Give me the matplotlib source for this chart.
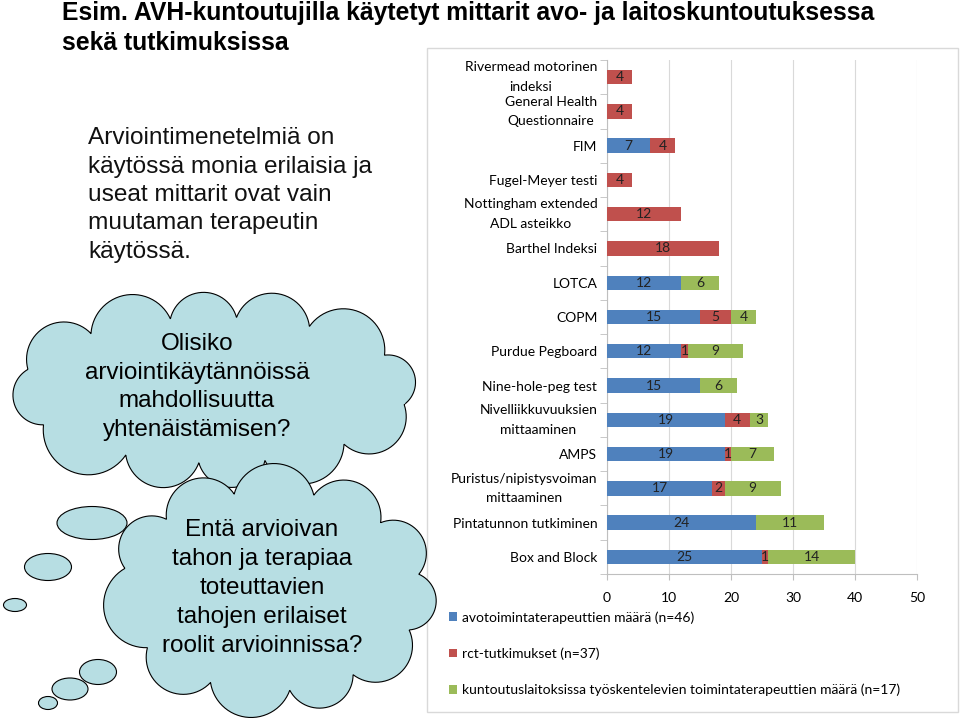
import numpy as np
import matplotlib
matplotlib.use("Agg")
import matplotlib.pyplot as plt
from matplotlib.patches import Polygon, Ellipse, Rectangle

# --- chart data ---
categories = ["Rivermead motorinen\nindeksi", "General Health\nQuestionnaire", "FIM",
              "Fugel-Meyer testi", "Nottingham extended\nADL asteikko", "Barthel Indeksi",
              "LOTCA", "COPM", "Purdue Pegboard", "Nine-hole-peg test",
              "Nivelliikkuvuuksien\nmittaaminen", "AMPS", "Puristus/nipistysvoiman\nmittaaminen",
              "Pintatunnon tutkiminen", "Box and Block"]
avo = [0, 0, 7, 0, 0, 0, 12, 15, 12, 15, 19, 19, 17, 24, 25]
rct = [4, 4, 4, 4, 12, 18, 0, 5, 1, 0, 4, 1, 2, 0, 1]
laitos = [0, 0, 0, 0, 0, 0, 6, 4, 9, 6, 3, 7, 9, 11, 14]
series_names = ["avotoimintaterapeuttien määrä (n=46)", "rct-tutkimukset (n=37)",
                "kuntoutuslaitoksissa työskentelevien toimintaterapeuttien määrä (n=17)"]
series_colors = ["#4F81BD", "#C0504D", "#9BBB59"]
xticks = [0, 10, 20, 30, 40, 50]

title = "Esim. AVH-kuntoutujilla käytetyt mittarit avo- ja laitoskuntoutuksessa\nsekä tutkimuksissa"
body = "Arviointimenetelmiä on\nkäytössä monia erilaisia ja\nuseat mittarit ovat vain\nmuutaman terapeutin\nkäytössä."
cloud1_text = "Olisiko\narviointikäytännöissä\nmahdollisuutta\nyhtenäistämisen?"
cloud2_text = "Entä arvioivan\ntahon ja terapiaa\ntoteuttavien\ntahojen erilaiset\nroolit arvioinnissa?"

CHART_FONT = ["Lato", "DejaVu Sans"]
SLIDE_FONT = ["Liberation Sans", "DejaVu Sans"]
CLOUD_FC = "#B7DEE3"
FS = 10

W, H = 960, 720
fig = plt.figure(figsize=(W / 100, H / 100), dpi=100)
fig.patch.set_facecolor("white")

# chart axes placed in pixel terms
ax = fig.add_axes([607 / W, 1 - 574 / H, 310 / W, 514 / H])
y = np.arange(len(categories))
left = np.zeros(len(categories))
bars = []
for vals, col in zip([avo, rct, laitos], series_colors):
    vals = np.array(vals, dtype=float)
    b = ax.barh(y, vals, left=left, height=0.42, color=col, zorder=3)
    for rect, v in zip(b, vals):
        if v > 0:
            ax.text(rect.get_x() + rect.get_width() / 2, rect.get_y() + rect.get_height() / 2,
                    f"{int(v)}", ha="center", va="center", fontsize=FS, color="#222222",
                    family=CHART_FONT, zorder=4)
    bars.append(b)
    left += vals

ax.set_xlim(0, 50)
ax.set_ylim(len(categories) - 0.5, -0.5)
ax.set_xticks(xticks)
ax.set_xticklabels([str(t) for t in xticks], family=CHART_FONT, fontsize=FS)
ax.set_yticks(y)
ax.set_yticklabels(categories, family=CHART_FONT, fontsize=FS)
for lab in ax.get_yticklabels():
    lab.set_multialignment("center")
    lab.set_linespacing(1.75)
    if "\n" in lab.get_text():
        lab.set_verticalalignment("center")
ax.set_yticks(np.arange(-0.5, len(categories), 1), minor=True)
ax.tick_params(axis="y", which="major", length=0, pad=7)
ax.tick_params(axis="y", which="minor", length=5, color="#BFBFBF")
ax.tick_params(axis="x", length=4, color="#BFBFBF", pad=9)
ax.grid(axis="x", color="#D9D9D9", lw=0.8, zorder=0)
for s in ("top", "right"):
    ax.spines[s].set_visible(False)
for s in ("left", "bottom"):
    ax.spines[s].set_color("#BFBFBF")

ax.legend(bars, series_names, loc="upper left", bbox_to_anchor=(449 / W, 1 - 611 / H),
          bbox_transform=fig.transFigure, frameon=False, prop={"family": CHART_FONT, "size": FS},
          handlelength=0.55, handleheight=0.55, handletextpad=0.35, labelspacing=1.72,
          borderaxespad=0, borderpad=0)

# overlay for slide elements, pixel coordinates with y downwards
ov = fig.add_axes([0, 0, 1, 1], zorder=5)
ov.set_xlim(0, W)
ov.set_ylim(H, 0)
ov.axis("off")
ov.patch.set_alpha(0)

ov.add_patch(Rectangle((427, 48), 531, 664, fill=False, ec="#D9D9D9", lw=1, zorder=1))


def cloud(cx, cy, rx, ry, weights, start=0.0, depth=0.25):
    # bump endpoints spaced along the ellipse perimeter by the given weights
    t = np.linspace(0, 2 * np.pi, 4000)
    ex, ey = cx + rx * np.cos(t + start), cy + ry * np.sin(t + start)
    s = np.r_[0, np.cumsum(np.hypot(np.diff(ex), np.diff(ey)))]
    w = np.r_[0, np.cumsum(weights)][:-1] / np.sum(weights) * s[-1]
    tk = np.interp(w, s, t) + start
    pts = np.c_[cx + rx * np.cos(tk), cy + ry * np.sin(tk)]
    ctr = np.array([cx, cy])
    out = []
    for i in range(len(pts)):
        a, b = pts[i], pts[(i + 1) % len(pts)]
        m = (a + b) / 2
        ch = b - a
        nrm = np.array([ch[1], -ch[0]]) / np.hypot(*ch)
        if np.dot(nrm, m - ctr) < 0:
            nrm = -nrm
        half = np.hypot(*ch) / 2
        c = m - nrm * depth * half
        r = np.hypot(half, depth * half)
        aa = np.arctan2(a[1] - c[1], a[0] - c[0])
        ab = np.arctan2(b[1] - c[1], b[0] - c[0])
        an = np.arctan2(nrm[1], nrm[0])
        delta = (ab - aa) % (2 * np.pi)
        if (an - aa) % (2 * np.pi) < delta:
            tt = np.linspace(aa, aa + delta, 30)
        else:
            tt = np.linspace(aa, aa - (2 * np.pi - delta), 30)
        out.append(np.c_[c[0] + r * np.cos(tt), c[1] + r * np.sin(tt)])
    return np.vstack(out)


c1 = cloud(214, 390, 194, 73, [1.0, 1.1, 0.9, 1.0, 1.2, 0.9, 1.0, 1.1, 0.9, 1.0, 1.1, 0.8],
           start=0.2)
ov.add_patch(Polygon(c1, closed=True, fc=CLOUD_FC, ec="black", lw=0.8, zorder=3))
for (ex, ey, ew, eh) in [(92, 523, 70, 33), (48, 567, 47, 27), (15, 605, 23, 13)]:
    ov.add_patch(Ellipse((ex, ey), ew, eh, fc=CLOUD_FC, ec="black", lw=0.8, zorder=3))

c2 = cloud(271, 591, 150, 100, [1.0, 0.9, 1.1, 1.0, 1.2, 0.9, 1.0, 1.1, 1.0, 0.9, 0.8],
           start=0.4)
ov.add_patch(Polygon(c2, closed=True, fc=CLOUD_FC, ec="black", lw=0.8, zorder=3.5))
for (ex, ey, ew, eh) in [(98, 672, 37, 25), (70, 689, 36, 22), (48, 703, 19, 13)]:
    ov.add_patch(Ellipse((ex, ey), ew, eh, fc=CLOUD_FC, ec="black", lw=0.8, zorder=3.5))

ov.text(62, 28, title, ha="left", va="center", fontsize=17.8, fontweight="bold",
        family=["Liberation Sans Narrow", "Liberation Sans"], linespacing=1.3, zorder=4)
ov.text(88, 195, body, ha="left", va="center", fontsize=17.6, family=SLIDE_FONT,
        linespacing=1.38, color="#111111", zorder=4)
ov.text(197, 387, cloud1_text, ha="center", va="center", fontsize=17.5, family=SLIDE_FONT,
        linespacing=1.41, zorder=4)
ov.text(262, 588, cloud2_text, ha="center", va="center", fontsize=17.5, family=SLIDE_FONT,
        linespacing=1.41, zorder=4)

fig.savefig("out.png", dpi=100)
